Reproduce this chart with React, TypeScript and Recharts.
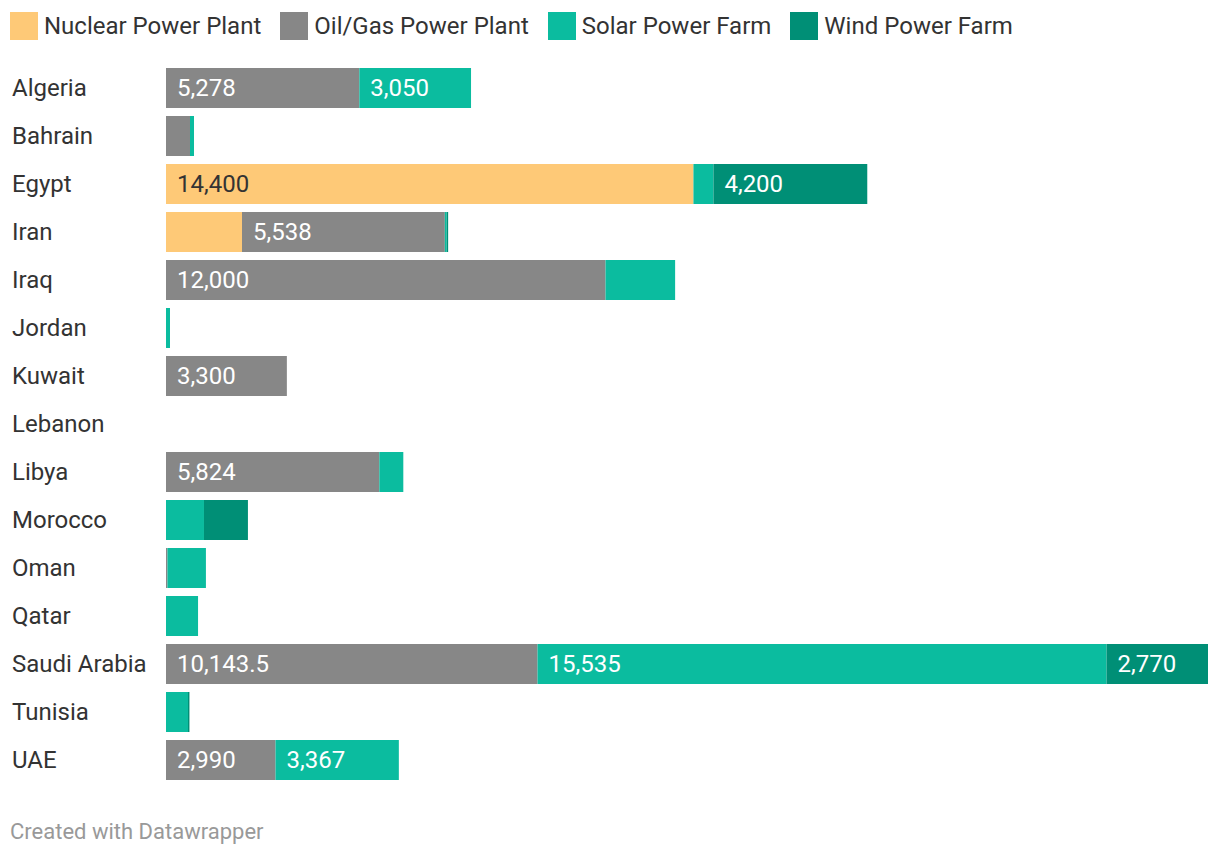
import { BarChart, Bar, XAxis, YAxis, LabelList } from 'recharts'

const countries = ['Algeria', 'Bahrain', 'Egypt', 'Iran', 'Iraq', 'Jordan', 'Kuwait', 'Lebanon', 'Libya', 'Morocco', 'Oman', 'Qatar', 'Saudi Arabia', 'Tunisia', 'UAE']
const nuclear = [0, 0, 14400, 2075, 0, 0, 0, 0, 0, 0, 0, 0, 0, 0, 0]
const oilGas = [5278, 655, 0, 5538, 12000, 0, 3300, 0, 5824, 0, 40, 0, 10143.5, 0, 2990]
const solar = [3050, 110, 546, 50, 1900, 110, 0, 0, 655, 1037, 1050, 875, 15535, 600, 3367]
const wind = [0, 0, 4200, 40, 0, 0, 0, 0, 0, 1200, 0, 0, 2770, 40, 0]

const series = [
  { key: 'nuclear', name: 'Nuclear Power Plant', color: '#fec977', text: '#333333' },
  { key: 'oilGas', name: 'Oil/Gas Power Plant', color: '#878787', text: '#ffffff' },
  { key: 'solar', name: 'Solar Power Farm', color: '#0bbc9f', text: '#ffffff' },
  { key: 'wind', name: 'Wind Power Farm', color: '#008f76', text: '#ffffff' },
]

const data = countries.map((country, i) => ({
  country,
  nuclear: nuclear[i],
  oilGas: oilGas[i],
  solar: solar[i],
  wind: wind[i],
}))

const FONT = 'Roboto, sans-serif'

// only label segments wide enough to hold the number
function makeLabel(color: string) {
  return (props: any) => {
    const { x, y, width, height, value } = props
    if (!value) return null
    const txt = Number(value).toLocaleString('en-US')
    if (width < txt.length * 12 + 30) return null
    return (
      <text x={x + 11} y={y + height / 2} dominantBaseline="central" fill={color} fontSize={24} fontFamily={FONT}>
        {txt}
      </text>
    )
  }
}

function CountryTick(props: any) {
  const { y, payload } = props
  return (
    <text x={12} y={y} dominantBaseline="central" textAnchor="start" fill="#333333" fontSize={24} fontFamily={FONT}>
      {payload.value}
    </text>
  )
}

export default function App() {
  return (
    <div style={{ position: 'relative', width: 1220, height: 858, margin: -8, background: '#fff', fontFamily: FONT }}>
      <div style={{ position: 'absolute', left: 10, top: 12, display: 'flex', alignItems: 'center' }}>
        {series.map(s => (
          <div key={s.key} style={{ display: 'flex', alignItems: 'center', marginRight: 19 }}>
            <div style={{ width: 28, height: 28, background: s.color, marginRight: 6 }} />
            <span style={{ fontSize: 24, color: '#333' }}>{s.name}</span>
          </div>
        ))}
      </div>
      <BarChart
        width={1220}
        height={858}
        data={data}
        layout="vertical"
        margin={{ top: 64, right: 12, bottom: 74, left: 0 }}
        barSize={40}
      >
        <XAxis type="number" domain={[0, 28448.5]} hide />
        <YAxis type="category" dataKey="country" width={166} axisLine={false} tickLine={false} tick={<CountryTick />} interval={0} />
        {series.map(s => (
          <Bar key={s.key} dataKey={s.key} stackId="a" fill={s.color} name={s.name} isAnimationActive={false}>
            <LabelList dataKey={s.key} content={makeLabel(s.text)} />
          </Bar>
        ))}
      </BarChart>
      <div style={{ position: 'absolute', left: 10, top: 819, fontSize: 22, color: '#999' }}>Created with Datawrapper</div>
    </div>
  )
}
